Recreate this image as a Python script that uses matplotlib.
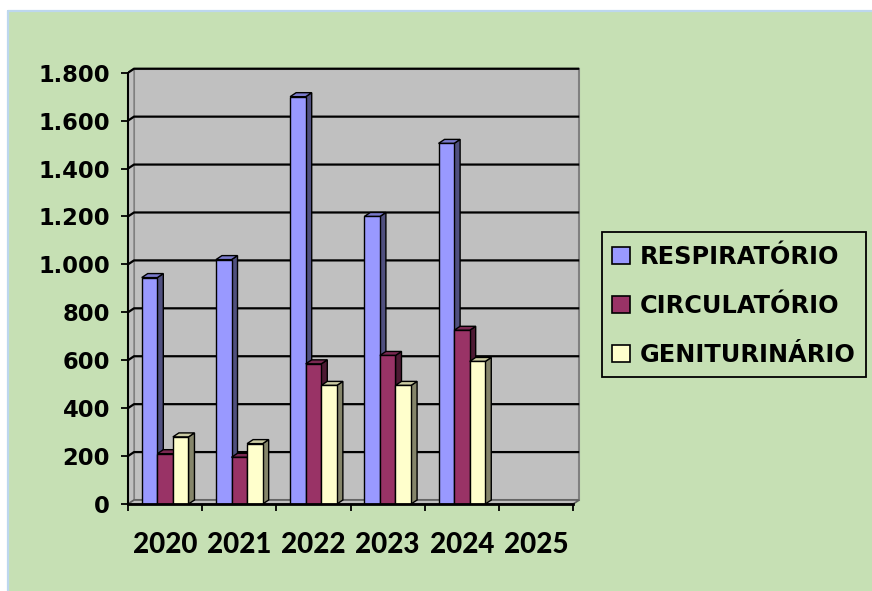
import matplotlib
matplotlib.use("Agg")
import matplotlib.pyplot as plt
from matplotlib.patches import Polygon, Rectangle, Patch

categories = ["2020", "2021", "2022", "2023", "2024", "2025"]
series_names = ["RESPIRATÓRIO", "CIRCULATÓRIO", "GENITURINÁRIO"]
respiratorio = [945, 1020, 1700, 1200, 1505, 0]
circulatorio = [210, 195, 585, 620, 725, 0]
geniturinario = [280, 252, 495, 495, 595, 0]
y_ticks = [0, 200, 400, 600, 800, 1000, 1200, 1400, 1600, 1800]
y_tick_labels = ["0", "200", "400", "600", "800", "1.000", "1.200", "1.400", "1.600", "1.800"]

series = [respiratorio, circulatorio, geniturinario]
front_colors = ["#9999FF", "#993366", "#FFFFCC"]
side_colors = ["#50507F", "#4D1A33", "#85856A"]
top_colors = ["#7A7ACC", "#7A2952", "#CCCCA3"]
bg_green = "#C6E0B4"

W, H = 872, 591
fig = plt.figure(figsize=(W / 100, H / 100), dpi=100, facecolor="white")
fig.patches.append(Rectangle((7 / W, 0), (W - 7) / W, (H - 10) / H, transform=fig.transFigure,
                             facecolor=bg_green, edgecolor="none", zorder=-10))
fig.lines.append(plt.Line2D([7.5 / W, 7.5 / W, 1], [0, 1 - 10.5 / H, 1 - 10.5 / H], transform=fig.transFigure,
                            color="#BDD7EE", lw=1.6, zorder=-9))

px_per_cat = 74.2
px_per_unit = 0.2396
x0_px, y0_px = 128, 504
x1_px, y1_px = 582, 64
xmin = -0.5
xmax = xmin + (x1_px - x0_px) / px_per_cat
ymax = (y0_px - y1_px) / px_per_unit
ax = fig.add_axes([x0_px / W, (H - y0_px) / H, (x1_px - x0_px) / W, (y0_px - y1_px) / H])
ax.set_xlim(xmin, xmax)
ax.set_ylim(0, ymax)
ax.patch.set_alpha(0)
for s in ax.spines.values():
    s.set_visible(False)

dx = 6 / px_per_cat
dy = 4 / px_per_unit
n = len(categories)
left, right = -0.5, n - 0.5
top = 1800

# walls
ax.add_patch(Polygon([(left + dx, dy), (right + dx, dy), (right + dx, top + dy), (left + dx, top + dy)],
                     closed=True, facecolor="#C0C0C0", edgecolor="#808080", lw=1.5, zorder=1))
ax.add_patch(Polygon([(left, 0), (left + dx, dy), (left + dx, top + dy), (left, top)],
                     closed=True, facecolor="#C0C0C0", edgecolor="#808080", lw=1, zorder=1))
ax.add_patch(Polygon([(left, 0), (right, 0), (right + dx, dy), (left + dx, dy)],
                     closed=True, facecolor="#C0C0C0", edgecolor="#606060", lw=1.2, zorder=1))
# gridlines
for v in y_ticks[1:]:
    ax.plot([left, left + dx, right + dx], [v, v + dy, v + dy], color="black", lw=1.6, zorder=2,
            solid_capstyle="butt")

# bars
bw = 0.21
offsets = [-0.21, 0.0, 0.21]
z = 3
for i in range(n):
    for k, vals in enumerate(series):
        v = vals[i]
        if v <= 0:
            continue
        xl = i + offsets[k] - bw / 2
        xr = xl + bw
        ax.add_patch(Polygon([(xr, 0), (xr + dx, dy), (xr + dx, v + dy), (xr, v)], closed=True,
                             facecolor=side_colors[k], edgecolor="black", lw=1, zorder=z))
        ax.add_patch(Polygon([(xl, v), (xr, v), (xr + dx, v + dy), (xl + dx, v + dy)], closed=True,
                             facecolor=top_colors[k], edgecolor="black", lw=1, zorder=z))
        ax.bar(xl, v, width=bw, align="edge", color=front_colors[k], edgecolor="black", lw=1, zorder=z + 0.5)
        z += 1

# axes lines
ax.plot([left, left], [0, top], color="black", lw=1.5, zorder=50, clip_on=False)
ax.plot([left, right], [0, 0], color="black", lw=2, zorder=50, clip_on=False)

ax.set_yticks(y_ticks)
ax.set_yticklabels(y_tick_labels, fontfamily="DejaVu Sans", fontweight="bold", fontsize=16.3)
ax.tick_params(axis="y", length=5, width=1.3, pad=8, color="black")
ax.set_xticks([i - 0.5 for i in range(n)] + [n - 0.5])
ax.set_xticklabels([])
ax.tick_params(axis="x", which="major", length=5, width=1.3, color="black")
ax.set_xticks(range(n), minor=True)
ax.set_xticklabels(categories, minor=True, fontfamily="Lato", fontweight=900, fontsize=20)
ax.tick_params(axis="x", which="minor", length=0, pad=20)

# legend frame
fig.patches.append(Rectangle((602 / W, 1 - 377 / H), 264 / W, 145 / H, transform=fig.transFigure,
                             facecolor=bg_green, edgecolor="black", lw=1.3, zorder=5))
handles = [Patch(facecolor=c, edgecolor="black", lw=1.2) for c in front_colors]
leg = fig.legend(handles, series_names, loc="center left", bbox_to_anchor=(612 / W, 1 - 306 / H),
                 frameon=False, prop={"family": "DejaVu Sans", "weight": "bold", "size": 17.3},
                 handlelength=0.73, handleheight=0.73, handletextpad=0.42, labelspacing=1.05,
                 borderpad=0, borderaxespad=0)
leg.set_zorder(10)

fig.savefig("out.png", dpi=100, facecolor=fig.get_facecolor())
